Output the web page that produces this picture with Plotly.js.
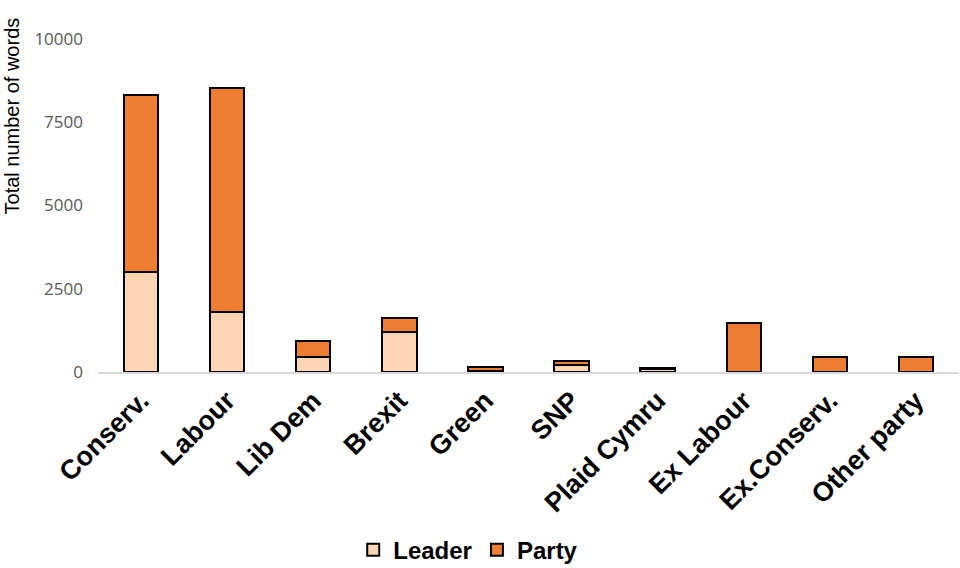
<!DOCTYPE html>
<html>
<head>
<meta charset="utf-8">
<script src="https://cdn.plot.ly/plotly-3.0.1.min.js"></script>
<style>html,body{margin:0;padding:0;background:#fff;}#chart{width:960px;height:568px;}</style>
</head>
<body>
<div id="chart"></div>
<script>
const categories = ["Conserv.", "Labour", "Lib Dem", "Brexit", "Green", "SNP", "Plaid Cymru", "Ex Labour", "Ex.Conserv.", "Other party"];
const leaderWords = [3000, 1790, 450, 1200, 20, 210, 100, 0, 0, 0];
const partyWords = [5330, 6740, 480, 420, 130, 120, 30, 1460, 440, 440];
const yTickVals = [0, 2500, 5000, 7500, 10000];
const yTitle = "Total number of words";

const traces = [
  {type: "bar", name: "Leader", x: categories, y: leaderWords,
   marker: {color: "#fcd5b5", line: {color: "#000", width: 2}}},
  {type: "bar", name: "Party", x: categories, y: partyWords,
   marker: {color: "#ed7d31", line: {color: "#000", width: 2}}}
];

const layout = {
  width: 960, height: 568,
  margin: {l: 98, r: 1, t: 39, b: 196, autoexpand: false},
  barmode: "stack", bargap: 0.6,
  paper_bgcolor: "#fff", plot_bgcolor: "#fff",
  font: {family: "Liberation Sans, Arial, sans-serif", color: "#000"},
  showlegend: true,
  legend: {orientation: "h", x: 0.43, xanchor: "center", y: -0.535, yanchor: "middle",
           font: {family: "Liberation Sans, Arial, sans-serif", size: 24, color: "#000", weight: "bold"},
           itemwidth: 30, traceorder: "normal"},
  xaxis: {tickangle: -45, showgrid: false, showline: true, linecolor: "#d9d9d9", linewidth: 2,
          automargin: false,
          ticks: "", tickfont: {family: "Liberation Sans, Arial, sans-serif", size: 27, color: "#000", weight: "bold"}},
  yaxis: {range: [0, 10000], tickvals: yTickVals, ticktext: yTickVals.map(String),
          showgrid: false, zeroline: false, showline: false, ticks: "", automargin: false,
          ticklabelstandoff: 14,
          tickfont: {family: "Open Sans, sans-serif", size: 17, color: "#595959"}},
  annotations: [{text: yTitle, textangle: -90, xref: "paper", yref: "paper",
                 x: -0.1, xanchor: "center", y: 0.77, yanchor: "middle", showarrow: false,
                 font: {family: "Liberation Sans, Arial, sans-serif", size: 20, color: "#000"}}]
};

Plotly.newPlot("chart", traces, layout, {displayModeBar: false, staticPlot: true});
</script>
</body>
</html>
